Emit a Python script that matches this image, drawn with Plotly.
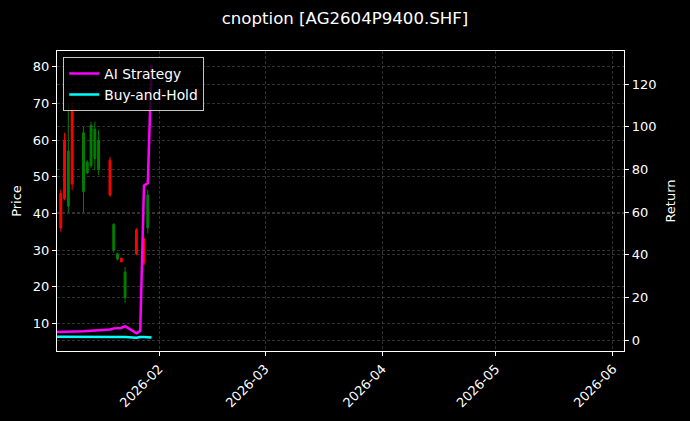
import plotly.graph_objects as go

# daily series (strategy curves)
dates = [
    "2026-01-05", "2026-01-06", "2026-01-07", "2026-01-08", "2026-01-09",
    "2026-01-12", "2026-01-13", "2026-01-14", "2026-01-15", "2026-01-16",
    "2026-01-19", "2026-01-20", "2026-01-21", "2026-01-22", "2026-01-23",
    "2026-01-26", "2026-01-27", "2026-01-28", "2026-01-29", "2026-01-30",
]
ai_strategy = [3.9, 3.9, 3.9, 3.95, 4.0, 4.2, 4.4, 4.5, 4.6, 4.8,
               5.1, 5.6, 5.6, 5.8, 6.6, 3.3, 4.4, 72.5, 73.5, 129.0]
buy_hold = [1.7, 1.7, 1.65, 1.7, 1.7, 1.75, 1.75, 1.7, 1.7, 1.7,
            1.65, 1.6, 1.6, 1.6, 1.55, 1.2, 1.6, 1.5, 1.5, 1.3]

# option price candles
candle_dates = [
    "2026-01-06", "2026-01-07", "2026-01-08", "2026-01-09", "2026-01-12",
    "2026-01-13", "2026-01-14", "2026-01-15", "2026-01-16", "2026-01-19",
    "2026-01-20", "2026-01-21", "2026-01-22", "2026-01-23", "2026-01-26",
    "2026-01-28", "2026-01-29",
]
opens = [45.5, 60, 42, 68, 46, 51, 53, 55, 52, 54.5, 30, 27.5, 27.8, 17, 35.5, 33, 36]
highs = [46.5, 62, 70, 70.4, 63.6, 54.5, 65, 65, 62.7, 55.4, 37.3, 29.3, 27.8, 25.4, 36, 33.3, 46.4]
lows = [35, 43.6, 40.4, 46.4, 40.4, 50.9, 52.3, 51.8, 50.5, 44.5, 29.3, 27.2, 26.7, 15.5, 28.6, 25.9, 34.5]
closes = [36, 44, 57, 48, 62, 54, 64, 63, 60, 45, 37, 29, 26.8, 24, 29, 26.5, 45]

fig = go.Figure()

fig.add_trace(
    go.Candlestick(
        x=candle_dates,
        open=opens,
        high=highs,
        low=lows,
        close=closes,
        increasing=dict(line=dict(color="#008000", width=1), fillcolor="#008000"),
        decreasing=dict(line=dict(color="#ff0000", width=1), fillcolor="#ff0000"),
        whiskerwidth=0,
        showlegend=False,
        yaxis="y",
    )
)
fig.add_trace(
    go.Scatter(
        x=dates, y=ai_strategy, name="AI Strategy", mode="lines",
        line=dict(color="#ff00ff", width=2.5), yaxis="y2",
    )
)
fig.add_trace(
    go.Scatter(
        x=dates, y=buy_hold, name="Buy-and-Hold", mode="lines",
        line=dict(color="#00ffff", width=2.5), yaxis="y2",
    )
)

grid = dict(
    showgrid=True,
    gridcolor="rgba(128,128,128,0.38)",
    griddash="3px,2px",
    gridwidth=0.6,
    zeroline=False,
    showline=True,
    linecolor="white",
    linewidth=1.2,
    ticks="outside",
    ticklen=4,
    tickcolor="white",
    tickfont=dict(color="white", size=13),
    automargin=False,
)

fig.update_layout(
    width=690,
    height=421,
    paper_bgcolor="black",
    plot_bgcolor="black",
    font=dict(family="DejaVu Sans", color="white", size=13),
    title=dict(text="cnoption [AG2604P9400.SHF]", x=0.5, xanchor="center",
               y=0.957, yanchor="middle", font=dict(size=16.6, color="white")),
    margin=dict(l=57, r=66, t=51, b=70, autoexpand=False),
    xaxis=dict(
        **grid,
        mirror=True,
        type="date",
        range=["2026-01-05", "2026-06-03 22:00"],
        tick0="2026-02-01",
        dtick="M1",
        tickformat="%Y-%m",
        tickangle=-45,
        rangeslider=dict(visible=False),
    ),
    yaxis=dict(
        **grid,
        range=[2.45, 84.3],
        tick0=10,
        dtick=10,
        title=dict(text="Price", font=dict(size=13, color="white"), standoff=8),
    ),
    yaxis2=dict(
        **grid,
        overlaying="y",
        side="right",
        range=[-5.0, 135.5],
        tick0=0,
        dtick=20,
        title=dict(text="Return", font=dict(size=13, color="white"), standoff=10),
    ),
    legend=dict(
        x=0.011, y=0.98, xanchor="left", yanchor="top",
        bgcolor="rgba(0,0,0,0.8)",
        bordercolor="rgba(220,220,220,0.9)",
        borderwidth=1,
        font=dict(size=13.8, color="white"),
        itemwidth=30,
        tracegroupgap=0,
    ),
)

fig.write_html(
    "out.html",
    config={"displayModeBar": False},
    post_script="document.body.style.margin='0';document.body.style.background='black';",
)
